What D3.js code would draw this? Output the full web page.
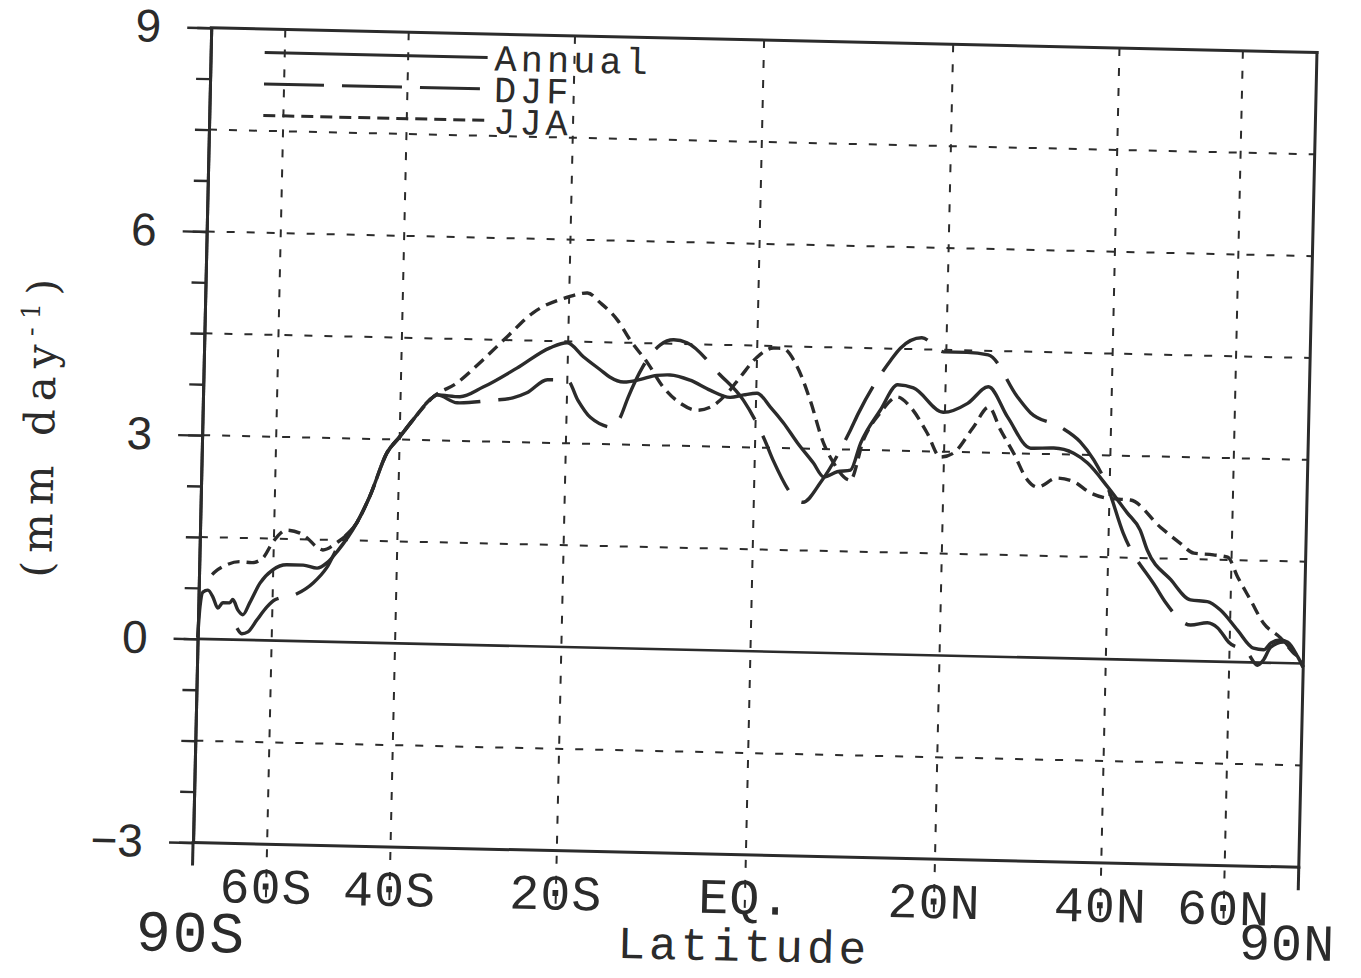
<!DOCTYPE html>
<html><head><meta charset="utf-8">
<script src="https://cdn.jsdelivr.net/npm/d3@7"></script>
<style>body{margin:0;background:#fff}</style>
</head><body>
<svg id="c" width="1361" height="978"></svg>
<script>
// ---- data: [latitude (deg), precipitation (mm/day)] ----
const annual = [[-89.5,0.02],[-85.6,0.47],[-82.9,0.69],[-79.5,0.72],[-76.9,0.62],[-74.7,0.46],[-72.9,0.54],[-70.6,0.54],[-69.7,0.59],[-68.2,0.44],[-66.8,0.37],[-65.1,0.55],[-62.8,0.84],[-60.1,1.04],[-57.3,1.12],[-54.3,1.12],[-51.9,1.08],[-50.3,1.16],[-48.7,1.33],[-45.8,1.76],[-44.0,2.15],[-41.7,2.80],[-40.0,3.04],[-38.3,3.29],[-35.7,3.64],[-35.2,3.67],[-32.4,3.65],[-29.6,3.80],[-25.7,4.09],[-22.0,4.40],[-20.1,4.48],[-18.3,4.28],[-16.4,4.09],[-15.4,3.99],[-13.9,3.92],[-12.2,3.96],[-10.4,4.03],[-9.0,4.04],[-6.9,3.97],[-4.8,3.83],[-2.7,3.73],[-1.3,3.77],[0.1,3.80],[1.5,3.60],[2.9,3.37],[4.4,3.08],[6.1,2.79],[7.2,2.59],[8.6,2.67],[10.0,2.70],[11.0,3.10],[13.0,3.59],[14.8,3.97],[16.5,3.93],[19.8,3.58],[22.5,3.72],[24.8,3.97],[27.1,3.53],[29.9,3.08],[32.7,3.09],[35.2,3.02],[37.0,2.88],[39.7,2.54],[42.5,2.16],[44.4,1.91],[45.5,1.62],[49.2,1.19],[52.5,0.90],[55.5,0.88],[58.0,0.76],[61.6,0.47],[65.4,0.21],[68.1,0.19],[70.1,0.29],[73.3,0.34],[76.2,0.31],[81.7,0.10],[84.3,0.02],[88.0,-0.05]];
const djf = [[-68.3,0.17],[-67.0,0.09],[-65.4,0.12],[-63.3,0.30],[-61.2,0.49],[-59.5,0.60],[-55.7,0.68],[-52.5,0.86],[-50.3,1.09],[-48.3,1.46],[-45.8,1.76],[-44.0,2.15],[-41.7,2.80],[-40.0,3.04],[-38.3,3.29],[-35.7,3.64],[-35.2,3.67],[-32.7,3.56],[-28.4,3.61],[-26.1,3.65],[-24.5,3.73],[-22.2,3.93],[-20.0,3.93],[-18.8,3.64],[-17.4,3.39],[-14.9,3.25],[-14.2,3.39],[-13.4,3.69],[-11.9,4.15],[-10.1,4.48],[-8.7,4.56],[-7.3,4.52],[-3.8,4.06],[-1.3,3.69],[1.0,3.11],[1.9,2.82],[5.1,2.21],[6.9,2.51],[9.9,3.29],[10.7,3.54],[14.0,4.33],[15.0,4.51],[17.3,4.67],[19.7,4.47],[22.3,4.47],[24.7,4.44],[28.2,3.83],[29.8,3.60],[33.5,3.40],[36.0,3.19],[37.8,2.93],[39.7,2.54],[42.0,1.86],[46.9,1.08],[48.5,0.85],[52.6,0.53],[55.6,0.57],[57.5,0.50],[59.8,0.29],[64.0,0.14],[66.5,-0.04],[68.1,0.04],[70.1,0.23],[74.5,0.31],[79.1,0.15],[84.3,0.05],[88.0,-0.05]];
const jja = [[-77.5,0.95],[-76.3,0.99],[-73.2,1.07],[-67.9,1.15],[-64.8,1.14],[-62.3,1.21],[-60.2,1.45],[-57.5,1.63],[-55.0,1.59],[-53.7,1.52],[-52.0,1.39],[-51.0,1.35],[-48.8,1.46],[-45.8,1.76],[-44.0,2.15],[-41.7,2.80],[-40.0,3.04],[-38.3,3.29],[-35.7,3.64],[-32.8,3.85],[-29.7,4.20],[-26.9,4.55],[-24.0,4.91],[-20.2,5.15],[-18.0,5.22],[-16.6,5.08],[-14.7,4.83],[-13.3,4.54],[-11.4,4.21],[-9.7,3.86],[-7.9,3.63],[-6.1,3.53],[-4.7,3.58],[-3.0,3.79],[-1.7,4.03],[0.0,4.33],[1.7,4.47],[2.6,4.47],[4.2,4.20],[5.6,3.72],[7.1,3.09],[8.2,2.80],[10.0,2.55],[11.3,3.15],[13.0,3.55],[14.8,3.79],[16.2,3.65],[18.1,3.27],[19.6,2.92],[21.0,2.98],[23.2,3.37],[24.9,3.67],[26.3,3.34],[27.9,3.00],[29.6,2.61],[30.8,2.51],[33.2,2.65],[35.3,2.60],[37.5,2.44],[39.7,2.37],[42.9,2.35],[47.4,1.96],[50.6,1.73],[52.9,1.59],[56.4,1.57],[59.2,1.54],[61.4,1.25],[64.4,0.92],[67.9,0.58],[73.3,0.37],[79.1,0.15],[84.3,0.05],[88.0,-0.05]];

const seriesNames = ["Annual","DJF","JJA"];
const yTicks = [-3,0,3,6,9];
const yMinorTicks = d3.range(-3, 9.001, 0.75);
const hGrid = [-1.5,1.5,3,4.5,6,7.5];
const xTickLats = [-60,-40,-20,0,20,40,60];
const xTickLabels = ["60S","40S","20S","EQ.","20N","40N","60N"];
const endLats = [-90,90];
const endLabels = ["90S","90N"];
const xTitle = "Latitude";

// ---- layout ----
const L=202, R=1308, T=40, B=855;
const ink="#2b2b2b";
const svg=d3.select("#c");
const g=svg.append("g").attr("transform","rotate(1.28,755,447.5)");

const xs=d3.scaleLinear().domain([-1,1]).range([L,R]);
const x=lat=>xs(Math.sin(lat*Math.PI/180));
const y=d3.scaleLinear().domain([-3,9]).range([B,T]);

// grid
g.selectAll("line.hg").data(hGrid).join("line").attr("class","hg")
 .attr("x1",L).attr("x2",R).attr("y1",d=>y(d)).attr("y2",d=>y(d))
 .attr("stroke",ink).attr("stroke-width",2).attr("stroke-dasharray","8,12");
g.selectAll("line.vg").data(xTickLats).join("line").attr("class","vg")
 .attr("x1",d=>x(d)).attr("x2",d=>x(d)).attr("y1",T).attr("y2",B+56)
 .attr("stroke",ink).attr("stroke-width",2).attr("stroke-dasharray","8,12");

// zero line
g.append("line").attr("x1",L).attr("x2",R).attr("y1",y(0)).attr("y2",y(0))
 .attr("stroke",ink).attr("stroke-width",2.6);

// frame
const frame=[[L,T,R,T],[R,T,R,B],[L,B,R,B]];
g.selectAll("line.fr").data(frame).join("line").attr("class","fr")
 .attr("x1",d=>d[0]).attr("y1",d=>d[1]).attr("x2",d=>d[2]).attr("y2",d=>d[3])
 .attr("stroke",ink).attr("stroke-width",3).attr("stroke-linecap","square");

// y axis
const ya1=g.append("g").attr("transform",`translate(${L},0)`)
 .call(d3.axisLeft(y).tickValues(yMinorTicks).tickSize(14).tickSizeOuter(0).tickFormat(""));
const ya2=g.append("g").attr("transform",`translate(${L},0)`)
 .call(d3.axisLeft(y).tickValues(yTicks).tickSize(24).tickSizeOuter(0).tickPadding(26)
   .tickFormat(d=>d<0?"\u2212"+Math.abs(d):String(d)));
[ya1,ya2].forEach(a=>{
  a.select(".domain").attr("stroke",ink).attr("stroke-width",3);
  a.selectAll(".tick line").attr("stroke",ink).attr("stroke-width",2.4);
});
ya2.selectAll(".tick text").attr("font-family","'Liberation Sans',Arial,sans-serif")
  .attr("font-size",46).attr("fill",ink);

// x end ticks
g.selectAll("line.xe").data(endLats).join("line").attr("class","xe")
 .attr("x1",d=>x(d)).attr("x2",d=>x(d)).attr("y1",B).attr("y2",B+23)
 .attr("stroke",ink).attr("stroke-width",3);

// x tick labels
g.selectAll("text.xl").data(xTickLats).join("text").attr("class","xl")
 .attr("x",d=>x(d)).attr("y",B+59).attr("text-anchor","middle")
 .attr("font-family","'Liberation Mono',monospace").attr("font-size",50)
 .attr("letter-spacing",1).attr("fill",ink)
 .text((d,i)=>xTickLabels[i]);
g.selectAll("text.xe").data(endLats).join("text").attr("class","xe")
 .attr("x",(d,i)=>i===0?x(d):x(d)-10).attr("y",(d,i)=>i===0?B+109:B+93).attr("text-anchor","middle")
 .attr("font-family","'Liberation Mono',monospace").attr("font-size",(d,i)=>i===0?58:52)
 .attr("letter-spacing",(d,i)=>i===0?2:1).attr("fill",ink)
 .text((d,i)=>endLabels[i]);
g.append("text").attr("x",x(0)).attr("y",B+106).attr("text-anchor","middle")
 .attr("font-family","'Liberation Mono',monospace").attr("font-size",46)
 .attr("letter-spacing",4).attr("fill",ink).text(xTitle);

// y title
const yt=g.append("text").attr("transform","translate(54,440) rotate(-90)")
 .attr("text-anchor","middle").attr("font-family","'DejaVu Serif',serif")
 .attr("font-size",42).attr("letter-spacing",8).attr("fill",ink);
yt.append("tspan").text("(mm day");
yt.append("tspan").attr("font-size",26).attr("dy",-17).text("-1");
yt.append("tspan").attr("dy",17).text(")");

// curves
const line=d3.line().x(d=>x(d[0])).y(d=>y(d[1])).curve(d3.curveMonotoneX);
const dashes=[null,"60,18","12,7"];
[annual,djf,jja].forEach((s,i)=>{
  g.append("path").datum(s).attr("d",line).attr("fill","none")
   .attr("stroke",ink).attr("stroke-width",3.4).attr("stroke-linejoin","round")
   .attr("stroke-dasharray",dashes[i]);
});

// legend
const lg=g.append("g");
seriesNames.forEach((n,i)=>{
  const ly=T+23.5+i*31.5;
  lg.append("line").attr("x1",L+54).attr("x2",L+277).attr("y1",ly).attr("y2",ly)
    .attr("stroke",ink).attr("stroke-width",3).attr("stroke-dasharray",dashes[i]);
  lg.append("text").attr("x",L+284).attr("y",ly+13)
    .attr("font-family","'Liberation Mono',monospace").attr("font-size",37)
    .attr("letter-spacing",4).attr("fill",ink).text(n);
});
</script>
</body></html>
